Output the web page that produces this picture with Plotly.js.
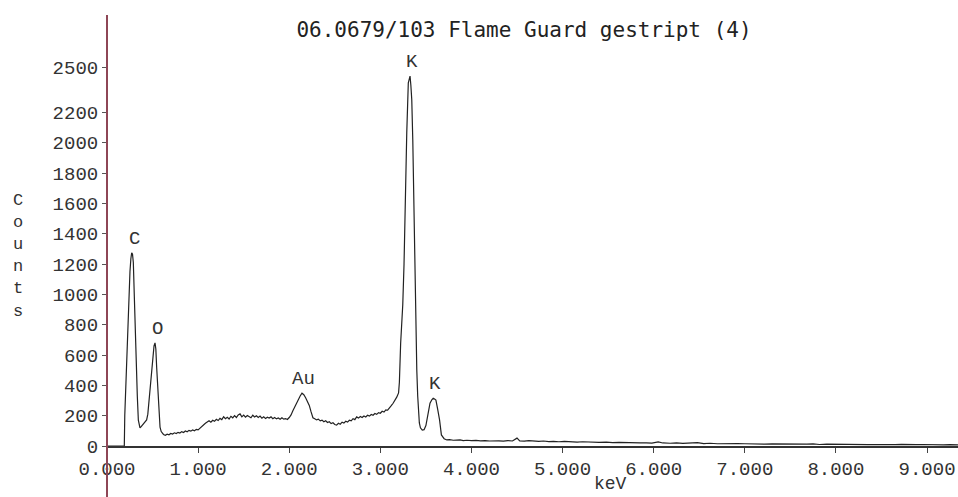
<!DOCTYPE html>
<html>
<head>
<meta charset="utf-8">
<script src="https://cdn.plot.ly/plotly-3.0.1.min.js"></script>
<style>html,body{margin:0;padding:0;background:#fff;}#chart{width:958px;height:497px;}</style>
</head>
<body>
<div id="chart"></div>
<script>
const chartTitle = '06.0679/103 Flame Guard gestript (4)';
const xAxisLabel = 'keV';
const yAxisLabel = 'Counts';

const keV = [
0.00,0.18,0.19,0.195,0.205,0.216,0.228,0.241,0.252,0.262,
0.271,0.28,0.289,0.30,0.308,0.315,0.325,0.333,0.344,0.352,
0.362,0.375,0.39,0.405,0.42,0.435,0.448,0.46,0.472,0.482,
0.492,0.503,0.516,0.527,0.536,0.545,0.555,0.563,0.572,0.582,
0.595,0.607,0.62,0.64,0.66,0.68,0.70,0.72,0.74,0.76,
0.78,0.80,0.82,0.84,0.86,0.88,0.90,0.92,0.94,0.96,
0.98,1.00,1.02,1.04,1.06,1.08,1.10,1.12,1.14,1.16,
1.18,1.20,1.22,1.24,1.26,1.28,1.30,1.32,1.34,1.36,
1.38,1.40,1.42,1.44,1.46,1.48,1.50,1.52,1.54,1.56,
1.58,1.60,1.62,1.64,1.66,1.68,1.70,1.72,1.74,1.76,
1.78,1.80,1.82,1.84,1.86,1.88,1.90,1.92,1.94,1.96,
1.98,2.00,2.02,2.04,2.06,2.08,2.10,2.12,2.14,2.16,
2.18,2.20,2.22,2.24,2.26,2.28,2.30,2.32,2.34,2.36,
2.38,2.40,2.42,2.44,2.46,2.48,2.50,2.52,2.54,2.56,
2.58,2.60,2.62,2.64,2.66,2.68,2.70,2.72,2.74,2.76,
2.78,2.80,2.82,2.84,2.86,2.88,2.90,2.92,2.94,2.96,
2.98,3.00,3.02,3.04,3.06,3.08,3.10,3.12,3.14,3.16,
3.18,3.20,3.209,3.223,3.235,3.246,3.26,3.271,3.28,3.29,
3.307,3.318,3.326,3.335,3.345,3.356,3.37,3.381,3.39,3.40,
3.41,3.428,3.44,3.46,3.48,3.50,3.52,3.545,3.565,3.58,
3.595,3.61,3.63,3.65,3.67,3.70,3.73,3.76,3.80,3.84,
3.875,3.91,3.95,4.00,4.05,4.10,4.15,4.20,4.25,4.30,
4.35,4.40,4.45,4.50,4.53,4.58,4.63,4.68,4.74,4.79,
4.85,4.90,4.96,5.02,5.08,5.16,5.22,5.28,5.34,5.40,
5.48,5.55,5.62,5.70,5.78,5.85,5.92,5.98,6.05,6.10,
6.18,6.25,6.32,6.40,6.48,6.55,6.62,6.70,6.78,6.85,
6.92,7.00,7.08,7.15,7.22,7.30,7.38,7.45,7.52,7.60,
7.68,7.75,7.82,7.90,7.98,8.05,8.12,8.20,8.28,8.35,
8.42,8.50,8.58,8.65,8.72,8.80,8.88,8.95,9.02,9.10,
9.18,9.25,9.34
];
const counts = [
0,0,0,200,380,570,780,985,1150,1235,
1275,1265,1210,985,800,615,440,325,170,130,
120,128,140,148,158,172,210,290,380,470,
540,610,660,680,640,520,400,305,200,125,
95,82,76,71,78,74,83,79,87,82,
90,86,95,89,99,94,103,98,106,101,
110,106,118,128,141,150,158,166,157,170,
163,176,168,182,174,193,180,190,178,196,
186,200,188,205,212,192,204,190,201,194,
186,203,191,199,188,197,184,193,181,190,
184,192,180,188,179,185,176,186,177,181,
175,188,205,232,258,282,305,330,348,338,
318,292,268,225,186,180,172,177,166,171,
160,166,155,160,148,153,142,138,150,144,
157,151,163,158,170,166,180,174,192,184,
195,188,198,191,203,197,208,203,214,209,
220,216,229,224,238,236,255,266,282,300,
322,350,420,680,800,930,1200,1540,1800,2066,
2396,2430,2440,2380,2284,2020,1577,983,720,502,
330,152,120,105,108,135,200,282,305,315,
310,303,240,172,73,48,40,42,38,41,
40,36,38,35,37,34,36,33,35,34,
32,36,33,52,34,32,35,31,30,33,
29,31,28,30,27,26,28,25,27,24,
26,22,24,21,22,20,21,19,27,20,
18,21,17,19,22,16,18,15,17,14,
16,15,13,16,12,14,13,15,11,13,
12,14,10,12,11,9,12,10,11,9,
10,8,10,9,11,8,9,10,8,9,
7,9,8
];

const xTickVals = [0,1,2,3,4,5,6,7,8,9];
const xTickText = ['0.000','1.000','2.000','3.000','4.000','5.000','6.000','7.000','8.000','9.000'];
const yTickVals = [0,200,400,600,800,1000,1200,1400,1600,1800,2000,2200,2500];
const yTickText = ['0','200','400','600','800','1000','1200','1400','1600','1800','2000','2200','2500'];

const peakLabels = ['C','O','Au','K','K'];
const peakKeV = [0.28,0.53,2.14,3.326,3.58];

const mono = 'Liberation Mono, DejaVu Sans Mono, monospace';
const titleFont = 'DejaVu Sans Mono, monospace';
const textColor = '#333';

function peakHeight(e){
  let m = 0;
  for(let i=0;i<keV.length;i++){ if(Math.abs(keV[i]-e)<=0.04 && counts[i]>m) m = counts[i]; }
  return m;
}

const annotations = peakLabels.map((t,i)=>({
  text:t, x:peakKeV[i], y:peakHeight(peakKeV[i]), xref:'x', yref:'y',
  showarrow:false, xanchor:'center', yanchor:'bottom', yshift:1, xshift:2,
  font:{family:mono, size:19, color:textColor}
}));
annotations.push({
  text: yAxisLabel.split('').join('<br>'), xref:'paper', yref:'paper',
  x:(18-107)/851, y:(446-256)/431, xanchor:'center', yanchor:'middle', showarrow:false,
  font:{family:mono, size:17, color:textColor}
});
annotations.push({
  text: xAxisLabel, xref:'x', yref:'paper', x:(610-107)/91.1, y:(446-484)/431,
  xanchor:'center', yanchor:'middle', showarrow:false, borderpad:0,
  font:{family:mono, size:18, color:textColor}
});

const layout = {
  width:958, height:497,
  margin:{l:107, r:0, t:15, b:51, pad:0},
  paper_bgcolor:'#fff', plot_bgcolor:'#fff',
  showlegend:false,
  title:{text:chartTitle, font:{family:titleFont, size:21, color:'#222'},
    x:524/958, xanchor:'center', xref:'container', y:1-30/497, yanchor:'middle', yref:'container'},
  xaxis:{range:[0,9.34], tickmode:'array', tickvals:xTickVals, ticktext:xTickText,
    ticks:'outside', ticklen:5, tickwidth:1, tickcolor:'#444',
    showline:true, linecolor:'#333', linewidth:1.5, showgrid:false, zeroline:false,
    tickfont:{family:mono, size:19, color:textColor}},
  yaxis:{range:[0,2843], tickmode:'array', tickvals:yTickVals, ticktext:yTickText,
    ticks:'outside', ticklen:4, tickwidth:1, tickcolor:'#555',
    showline:false, showgrid:false, zeroline:false,
    tickfont:{family:mono, size:19, color:textColor}},
  shapes:[{type:'line', xref:'paper', yref:'paper', x0:0, x1:0, y0:-51/431, y1:1,
    line:{color:'#8e4656', width:2}, layer:'above'}],
  annotations:annotations
};

Plotly.newPlot('chart', [{
  x:keV, y:counts, type:'scatter', mode:'lines',
  line:{color:'#222', width:1.2}, hoverinfo:'skip'
}], layout, {displayModeBar:false, staticPlot:true});
</script>
</body>
</html>
